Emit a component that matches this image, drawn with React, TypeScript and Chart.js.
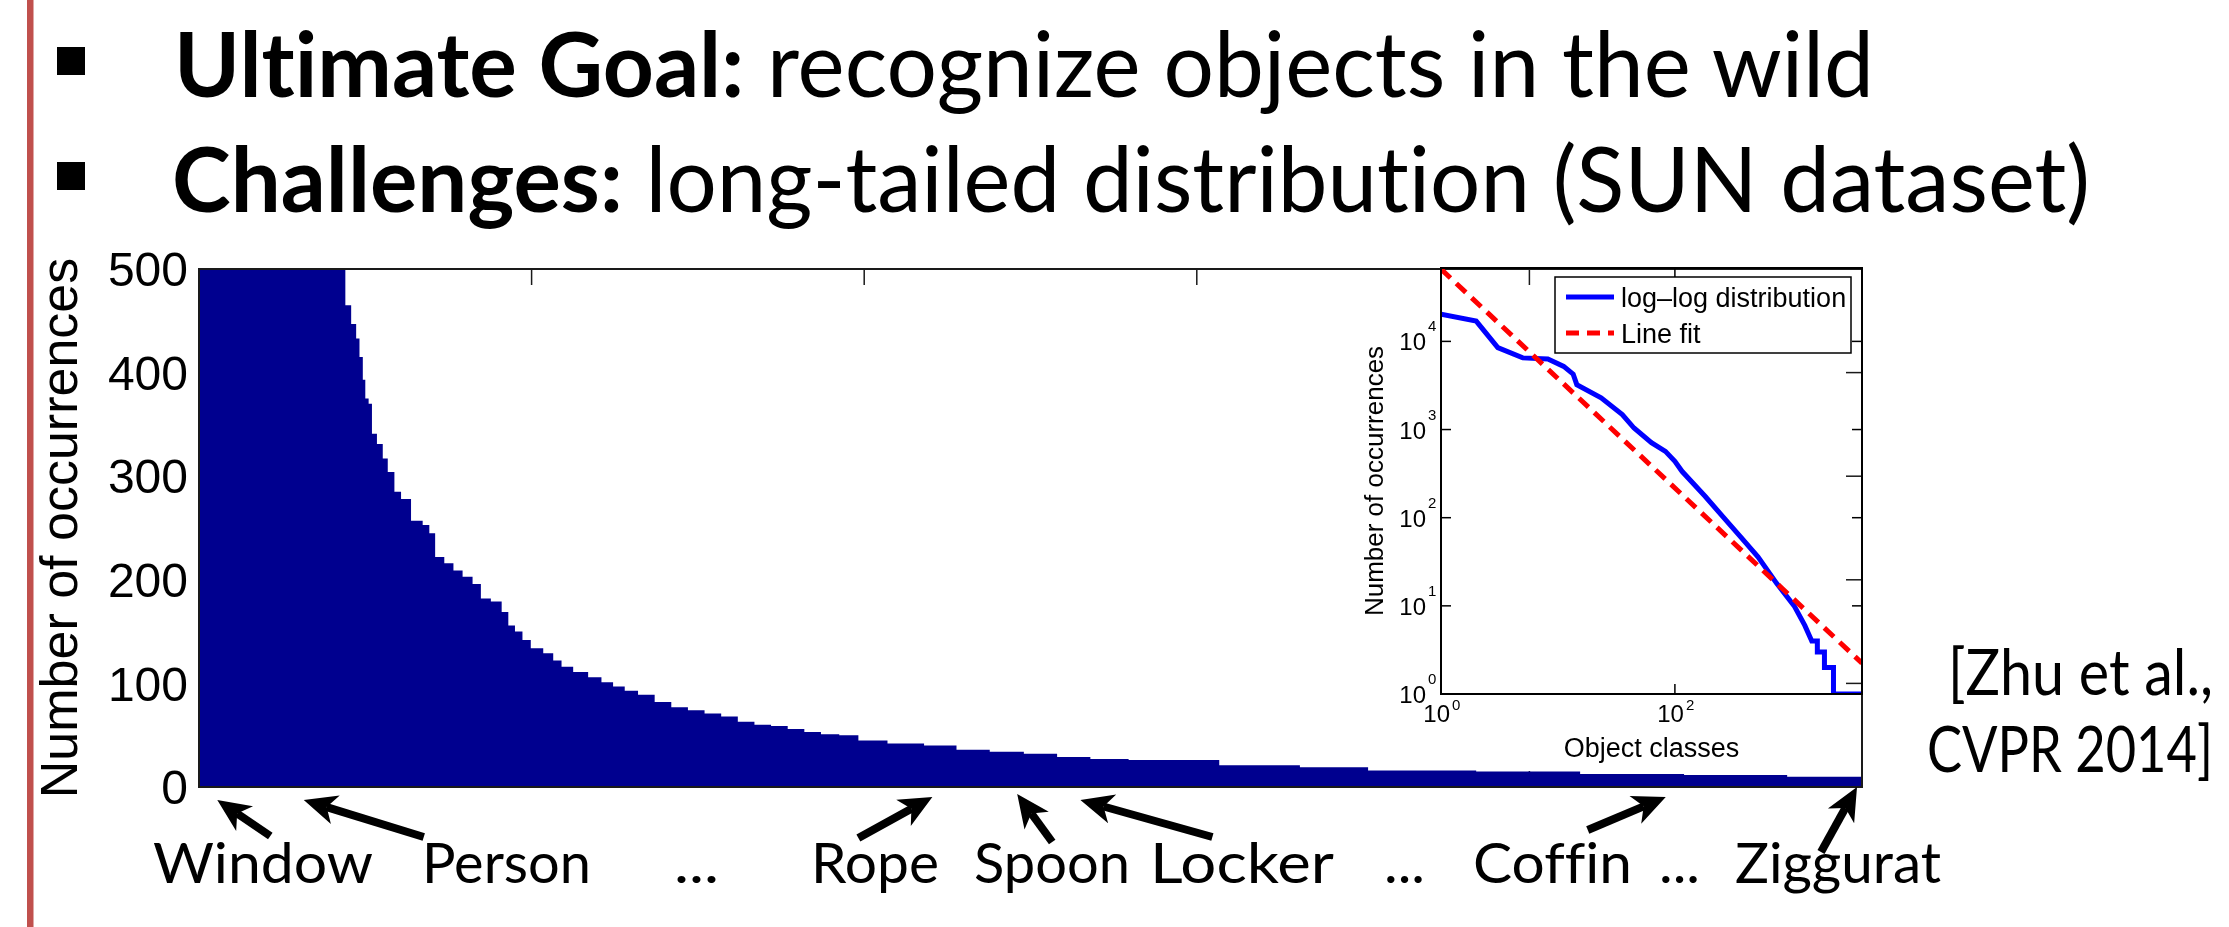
import React, { useEffect, useRef } from 'react';
import { Chart, registerables } from 'chart.js';
Chart.register(...registerables);

// ---------- data: main bar distribution (class rank -> number of occurrences) ----------
const mainRanks = [0, 1, 2, 4, 7, 10, 13, 22, 35, 44, 62, 82, 87, 89, 94, 95, 98, 99, 101, 103, 105, 109, 112, 115, 120, 123, 132, 137, 140, 144, 151, 155, 162, 167, 172, 179, 185, 187, 193, 196, 203, 211, 215, 221, 229, 239, 245, 253, 259, 269, 279, 289, 299, 309, 319, 329, 339, 349, 359, 369, 379, 391, 402, 426, 446, 465, 486, 506, 526, 546, 572, 655, 669, 737, 799, 862, 924, 986, 1000];
const mainCounts = [20400, 17000, 8500, 6500, 6300, 5200, 3230, 2290, 1480, 1040, 710, 565, 500, 465, 447, 433, 415, 393, 375, 370, 341, 331, 317, 304, 285, 278, 257, 253, 245, 222, 216, 209, 203, 196, 182, 179, 169, 156, 150, 142, 134, 129, 122, 116, 111, 106, 101, 97, 93, 89, 82, 77, 74, 71, 68, 63, 60, 59, 56, 53, 51, 50, 45, 42, 40, 36, 34, 32, 29, 27, 26, 21, 19, 16, 15, 12.5, 11.5, 10, 10];
const mainXTicks = [0, 200, 400, 600, 800, 1000];
const mainYTicks = [0, 100, 200, 300, 400, 500];
const mainYTitle = 'Number of occurrences';

// callouts under the main chart: label and class rank the arrow points at
const calloutLabels = ['Window', 'Person', 'Rope', 'Spoon', 'Locker', 'Coffin', 'Ziggurat'];
const calloutRanks = [11, 63, 441, 492, 530, 882, 997];
const bottomLabels = ['Window', 'Person', '...', 'Rope', 'Spoon', 'Locker', '...', 'Coffin', '...', 'Ziggurat'];

// ---------- data: inset log-log plot ----------
const insetRanks = [1, 2, 3.06, 5, 8.2, 11.2, 13.5, 14.5, 23.4, 35.5, 44.7, 63, 83, 100, 115, 182, 257, 363, 513, 741, 1047, 1290, 1480, 1652, 1652, 1900, 1900, 2270, 2270, 3980];
const insetCounts = [20400, 17000, 8500, 6500, 6300, 5200, 4250, 3230, 2290, 1480, 1040, 710, 565, 436, 336, 174, 103, 61, 36, 18, 10, 6, 4, 4, 3, 3, 2, 2, 1, 1];
const fitRanks = [1, 3980];
const fitCounts = [66000, 2.24];
const insetXTicks = [1, 100];
const insetYTicks = [1, 10, 100, 1000, 10000];
const insetSeriesNames = ['log\u2013log distribution', 'Line fit'];
const insetXTitle = 'Object classes';
const insetYTitle = 'Number of occurrences';

// ---------- slide text ----------
const bulletBold = ['Ultimate Goal:', 'Challenges:'];
const bulletRest = [' recognize objects in the wild', ' long-tailed distribution (SUN dataset)'];
const citationLines = ['[Zhu et al.,', 'CVPR 2014]'];

const W = 2229;
const H = 927;
const HELV = '"Liberation Sans", Arial, Helvetica, sans-serif';
const BAR_BLUE = 'rgb(0,0,143)';

function drawArrow(ctx: CanvasRenderingContext2D, tx: number, ty: number, sx: number, sy: number) {
  const dx = sx - tx, dy = sy - ty;
  const len = Math.hypot(dx, dy);
  const ux = dx / len, uy = dy / len;
  const px = -uy, py = ux;
  const headLen = 33, half = 15, notch = 24;
  ctx.beginPath();
  ctx.lineWidth = 8;
  ctx.lineCap = 'butt';
  ctx.moveTo(tx + ux * notch, ty + uy * notch);
  ctx.lineTo(sx, sy);
  ctx.stroke();
  ctx.beginPath();
  ctx.moveTo(tx, ty);
  ctx.lineTo(tx + ux * headLen + px * half, ty + uy * headLen + py * half);
  ctx.lineTo(tx + ux * notch, ty + uy * notch);
  ctx.lineTo(tx + ux * headLen - px * half, ty + uy * headLen - py * half);
  ctx.closePath();
  ctx.fill();
}

export default function App() {
  const mainRef = useRef<HTMLCanvasElement>(null);
  const insetRef = useRef<HTMLCanvasElement>(null);

  useEffect(() => {
    // arrow geometry relative to the tip (layout only)
    const arrowLayout = [
      { tipDy: 13, dx: 53, dy: 36 },
      { tipDy: 13, dx: 120, dy: 37 },
      { tipDy: 10, dx: -74, dy: 41 },
      { tipDy: 7, dx: 35, dy: 48 },
      { tipDy: 13, dx: 132, dy: 37 },
      { tipDy: 10, dx: -78, dy: 33 },
      { tipDy: 0, dx: -36, dy: 65 },
    ];

    const mainDecor = {
      id: 'mainDecor',
      beforeDatasetsDraw(chart: any) {
        const { ctx, chartArea: a, scales } = chart;
        const xs = scales.x, ys = scales.y;
        ctx.save();
        ctx.strokeStyle = '#1a1a1a';
        ctx.lineWidth = 1.5;
        const L = 16;
        const seg = (x1: number, y1: number, x2: number, y2: number) => {
          ctx.beginPath(); ctx.moveTo(x1, y1); ctx.lineTo(x2, y2); ctx.stroke();
        };
        mainXTicks.forEach((v) => {
          const px = xs.getPixelForValue(v);
          seg(px, a.top, px, a.top + L);
          seg(px, a.bottom, px, a.bottom - L);
        });
        mainYTicks.forEach((v) => {
          const py = ys.getPixelForValue(v);
          seg(a.left, py, a.left + L, py);
          seg(a.right, py, a.right - L, py);
        });
        ctx.restore();
      },
      afterDatasetsDraw(chart: any) {
        const { ctx, chartArea: a, scales } = chart;
        const xs = scales.x, ys = scales.y;
        ctx.save();
        ctx.strokeStyle = '#1a1a1a';
        ctx.lineWidth = 2;
        ctx.strokeRect(a.left, a.top, a.right - a.left, a.bottom - a.top);
        // y tick labels
        ctx.fillStyle = '#000';
        ctx.font = `48px ${HELV}`;
        ctx.textAlign = 'right';
        ctx.textBaseline = 'alphabetic';
        mainYTicks.forEach((v) => {
          const py = ys.getPixelForValue(v);
          ctx.fillText(String(v), a.left - 11, py + 0.358 * 48);
        });
        // y title
        ctx.save();
        ctx.translate(77, (a.top + a.bottom) / 2);
        ctx.rotate(-Math.PI / 2);
        ctx.textAlign = 'center';
        ctx.font = `52px ${HELV}`;
        ctx.fillText(mainYTitle, 0, 0);
        ctx.restore();
        // callout arrows
        ctx.fillStyle = '#000';
        ctx.strokeStyle = '#000';
        calloutRanks.forEach((r, i) => {
          const g = arrowLayout[i];
          const tx = xs.getPixelForValue(r);
          const ty = a.bottom + g.tipDy;
          drawArrow(ctx, tx, ty, tx + g.dx, ty + g.dy);
        });
        ctx.restore();
      },
    };

    const insetDecor = {
      id: 'insetDecor',
      afterDraw(chart: any) {
        const { ctx, chartArea: a, scales } = chart;
        const xs = scales.x, ys = scales.y;
        ctx.save();
        ctx.strokeStyle = '#000';
        ctx.lineWidth = 2;
        ctx.strokeRect(a.left, a.top, a.right - a.left, a.bottom - a.top);
        const L = 10;
        const seg = (x1: number, y1: number, x2: number, y2: number) => {
          ctx.beginPath(); ctx.moveTo(x1, y1); ctx.lineTo(x2, y2); ctx.stroke();
        };
        ctx.lineWidth = 1.5;
        insetXTicks.forEach((v) => {
          const px = xs.getPixelForValue(v);
          seg(px, a.bottom, px, a.bottom - L);
          seg(px, a.top, px, a.top + L);
        });
        insetYTicks.forEach((v) => {
          const py = ys.getPixelForValue(v);
          seg(a.left, py, a.left + L, py);
          seg(a.right, py, a.right - L, py);
        });
        ctx.fillStyle = '#000';
        ctx.textBaseline = 'alphabetic';
        insetXTicks.forEach((v) => {
          const px = xs.getPixelForValue(v);
          const e = String(Math.round(Math.log10(v)));
          ctx.font = `24px ${HELV}`;
          ctx.textAlign = 'right';
          ctx.fillText('10', px + 9, a.bottom + 28);
          ctx.font = `15px ${HELV}`;
          ctx.textAlign = 'left';
          ctx.fillText(e, px + 11, a.bottom + 16);
        });
        insetYTicks.forEach((v) => {
          const py = ys.getPixelForValue(v);
          const e = String(Math.round(Math.log10(v)));
          ctx.font = `24px ${HELV}`;
          ctx.textAlign = 'right';
          ctx.fillText('10', a.left - 15, py + 9);
          ctx.font = `15px ${HELV}`;
          ctx.textAlign = 'left';
          ctx.fillText(e, a.left - 13, py - 10);
        });
        // axis titles
        ctx.font = `27px ${HELV}`;
        ctx.textAlign = 'center';
        ctx.fillText(insetXTitle, (a.left + a.right) / 2, a.bottom + 63);
        ctx.save();
        ctx.translate(a.left - 58, (a.top + a.bottom) / 2);
        ctx.rotate(-Math.PI / 2);
        ctx.font = `26px ${HELV}`;
        ctx.fillText(insetYTitle, 0, 0);
        ctx.restore();
        // legend
        const lx = a.right - 307, ly = a.top + 9, lw = 296, lh = 76;
        ctx.fillStyle = '#fff';
        ctx.fillRect(lx, ly, lw, lh);
        ctx.strokeStyle = '#000';
        ctx.lineWidth = 1.5;
        ctx.strokeRect(lx, ly, lw, lh);
        const ds = chart.data.datasets;
        [0, 1].forEach((i) => {
          const d = ds[i];
          const yy = ly + 20 + i * 36;
          ctx.beginPath();
          ctx.strokeStyle = d.borderColor;
          ctx.lineWidth = d.borderWidth;
          ctx.setLineDash(d.borderDash || []);
          ctx.moveTo(lx + 11, yy);
          ctx.lineTo(lx + 59, yy);
          ctx.stroke();
          ctx.setLineDash([]);
          ctx.fillStyle = '#000';
          ctx.font = `27px ${HELV}`;
          ctx.textAlign = 'left';
          ctx.fillText(d.label, lx + 66, yy + 9.5);
        });
        ctx.restore();
      },
    };

    const mainChart = new Chart(mainRef.current as HTMLCanvasElement, {
      type: 'line',
      data: {
        datasets: [
          {
            label: 'Number of occurrences',
            data: mainRanks.map((r, i) => ({ x: r, y: mainCounts[i] })),
            stepped: 'middle',
            fill: 'origin',
            backgroundColor: BAR_BLUE,
            borderColor: 'rgba(0,0,0,0)',
            borderWidth: 0,
            pointRadius: 0,
          },
        ],
      },
      options: {
        responsive: false,
        maintainAspectRatio: false,
        animation: false,
        devicePixelRatio: 1,
        layout: { padding: { left: 199, top: 269, right: 367, bottom: 140 } },
        plugins: { legend: { display: false }, tooltip: { enabled: false }, title: { display: false } },
        scales: {
          x: { type: 'linear', min: 0, max: 1000, display: false },
          y: { type: 'linear', min: 0, max: 500, display: false },
        },
      } as any,
      plugins: [mainDecor],
    });

    const insetChart = new Chart(insetRef.current as HTMLCanvasElement, {
      type: 'line',
      data: {
        datasets: [
          {
            label: insetSeriesNames[0],
            data: insetRanks.map((r, i) => ({ x: r, y: insetCounts[i] })),
            borderColor: 'rgb(0,0,255)',
            borderWidth: 5,
            pointRadius: 0,
            fill: false,
            tension: 0,
            order: 1,
          },
          {
            label: insetSeriesNames[1],
            data: fitRanks.map((r, i) => ({ x: r, y: fitCounts[i] })),
            borderColor: 'rgb(255,0,0)',
            borderWidth: 5,
            borderDash: [13, 8],
            pointRadius: 0,
            fill: false,
            tension: 0,
            order: 0,
          },
        ],
      },
      options: {
        responsive: false,
        maintainAspectRatio: false,
        animation: false,
        devicePixelRatio: 1,
        layout: { padding: { left: 1441, top: 268, right: 367, bottom: 233 } },
        plugins: { legend: { display: false }, tooltip: { enabled: false }, title: { display: false } },
        scales: {
          x: { type: 'logarithmic', min: 1, max: 3980, display: false },
          y: { type: 'logarithmic', min: 1, max: 68000, display: false },
        },
      } as any,
      plugins: [insetDecor],
    });

    return () => {
      mainChart.destroy();
      insetChart.destroy();
    };
  }, []);

  // slide text layout (left x, width, baseline, font size)
  const LATO = 'Lato, "Open Sans", sans-serif';
  const noLig = { fontVariantLigatures: 'none', fontFeatureSettings: '"liga" 0, "clig" 0', whiteSpace: 'pre' } as any;
  const titleFs = 65 / 0.7165;
  const titleLayout = [
    { x: 174, w: 1700, y: 97 },
    { x: 172, w: 1918, y: 212 },
  ];
  const citeFs = 46 / 0.7165;
  const citeLayout = [
    { x: 1948, w: 265, y: 695 },
    { x: 1927, w: 286, y: 772 },
  ];
  const labelFs = 40 / 0.7165;
  const labelLayout = [
    { x: 153, w: 220 },
    { x: 422, w: 169 },
    { x: 674, w: 45 },
    { x: 811, w: 128 },
    { x: 974, w: 156 },
    { x: 1150, w: 184 },
    { x: 1384, w: 41 },
    { x: 1473, w: 159 },
    { x: 1659, w: 41 },
    { x: 1735, w: 206 },
  ];
  const labelBaseline = 883;

  return (
    <div style={{ position: 'absolute', left: 0, top: 0, width: W, height: H, background: '#fff', overflow: 'hidden' }}>
      <canvas ref={mainRef} width={W} height={H} style={{ position: 'absolute', left: 0, top: 0 }} />
      <canvas ref={insetRef} width={W} height={H} style={{ position: 'absolute', left: 0, top: 0 }} />
      <svg width={W} height={H} style={{ position: 'absolute', left: 0, top: 0, pointerEvents: 'none' }}>
        <rect x={27} y={0} width={6.5} height={H} fill="#C0504D" />
        <rect x={57} y={47} width={28} height={28} fill="#000" />
        <rect x={57} y={162} width={28} height={28} fill="#000" />
        {titleLayout.map((t, i) => (
          <text
            key={'t' + i}
            x={t.x}
            y={t.y}
            fontFamily={LATO}
            fontSize={titleFs}
            fill="#000"
            textLength={t.w}
            lengthAdjust="spacingAndGlyphs"
            style={noLig}
          >
            <tspan fontWeight="bold">{bulletBold[i]}</tspan>
            <tspan fontWeight="normal">{bulletRest[i]}</tspan>
          </text>
        ))}
        {citationLines.map((c, i) => (
          <text
            key={'c' + i}
            x={citeLayout[i].x}
            y={citeLayout[i].y}
            fontFamily={LATO}
            fontSize={citeFs}
            fill="#000"
            textLength={citeLayout[i].w}
            lengthAdjust="spacingAndGlyphs"
            style={noLig}
          >
            {c}
          </text>
        ))}
        {bottomLabels.map((l, i) => (
          <text
            key={'l' + i}
            x={labelLayout[i].x}
            y={labelBaseline}
            fontFamily={LATO}
            fontSize={labelFs}
            fill="#000"
            textLength={labelLayout[i].w}
            lengthAdjust="spacingAndGlyphs"
            style={noLig}
          >
            {l}
          </text>
        ))}
      </svg>
    </div>
  );
}
